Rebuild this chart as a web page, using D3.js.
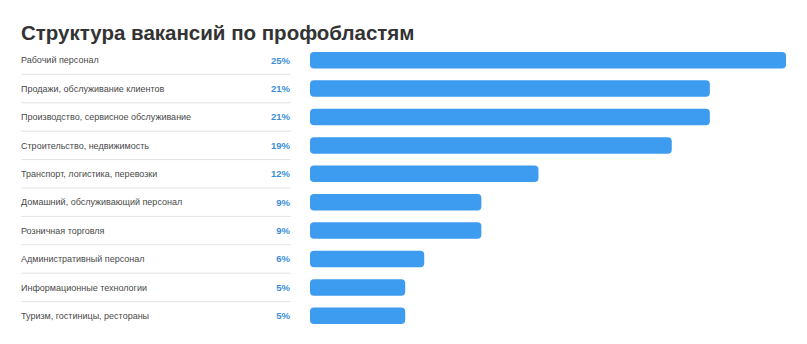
<!DOCTYPE html>
<html>
<head>
<meta charset="utf-8">
<script src="https://cdn.jsdelivr.net/npm/d3@7"></script>
<style>
  body { margin: 0; background: #fff; font-family: "Liberation Sans", Arial, sans-serif; }
</style>
</head>
<body>
<div id="chart"></div>
<script>
const categories = [
    "Рабочий персонал",
    "Продажи, обслуживание клиентов",
    "Производство, сервисное обслуживание",
    "Строительство, недвижимость",
    "Транспорт, логистика, перевозки",
    "Домашний, обслуживающий персонал",
    "Розничная торговля",
    "Административный персонал",
    "Информационные технологии",
    "Туризм, гостиницы, рестораны"
];
const shares = [25, 21, 21, 19, 12, 9, 9, 6, 5, 5];
const title = "Структура вакансий по профобластям";

const width = 807, height = 344;

const svg = d3.select("#chart").append("svg")
    .attr("width", width)
    .attr("height", height);

svg.append("text")
    .attr("x", 21)
    .attr("y", 40)
    .attr("font-size", 20.5)
    .attr("font-weight", "bold")
    .attr("fill", "#333")
    .text(title);

// rows
const y = d3.scaleBand()
    .domain(categories)
    .range([46, 330])
    .padding(0);

const x = d3.scaleLinear()
    .domain([0, 25])
    .range([310, 786]);

const rows = svg.selectAll(".row")
    .data(categories)
    .enter().append("g")
    .attr("class", "row")
    .attr("transform", d => `translate(0, ${y(d) + y.bandwidth() / 2})`);

rows.append("text")
    .attr("x", 21)
    .attr("dy", "0.35em")
    .attr("font-size", 9)
    .attr("fill", "#4a4a4a")
    .text(d => d);

rows.append("text")
    .attr("x", 290)
    .attr("dy", "0.35em")
    .attr("text-anchor", "end")
    .attr("font-size", 9.5)
    .attr("font-weight", "bold")
    .attr("fill", "#3b8fd8")
    .text((d, i) => shares[i] + "%");

rows.filter((d, i) => i < categories.length - 1)
    .append("line")
    .attr("x1", 21)
    .attr("x2", 291)
    .attr("y1", y.bandwidth() / 2)
    .attr("y2", y.bandwidth() / 2)
    .attr("stroke", "#e3e3e3")
    .attr("stroke-width", 1);

const barH = 16.5;
rows.append("rect")
    .attr("x", x(0))
    .attr("y", -barH / 2)
    .attr("width", (d, i) => x(shares[i]) - x(0))
    .attr("height", barH)
    .attr("rx", 4)
    .attr("fill", "#3d9cf0");
</script>
</body>
</html>
